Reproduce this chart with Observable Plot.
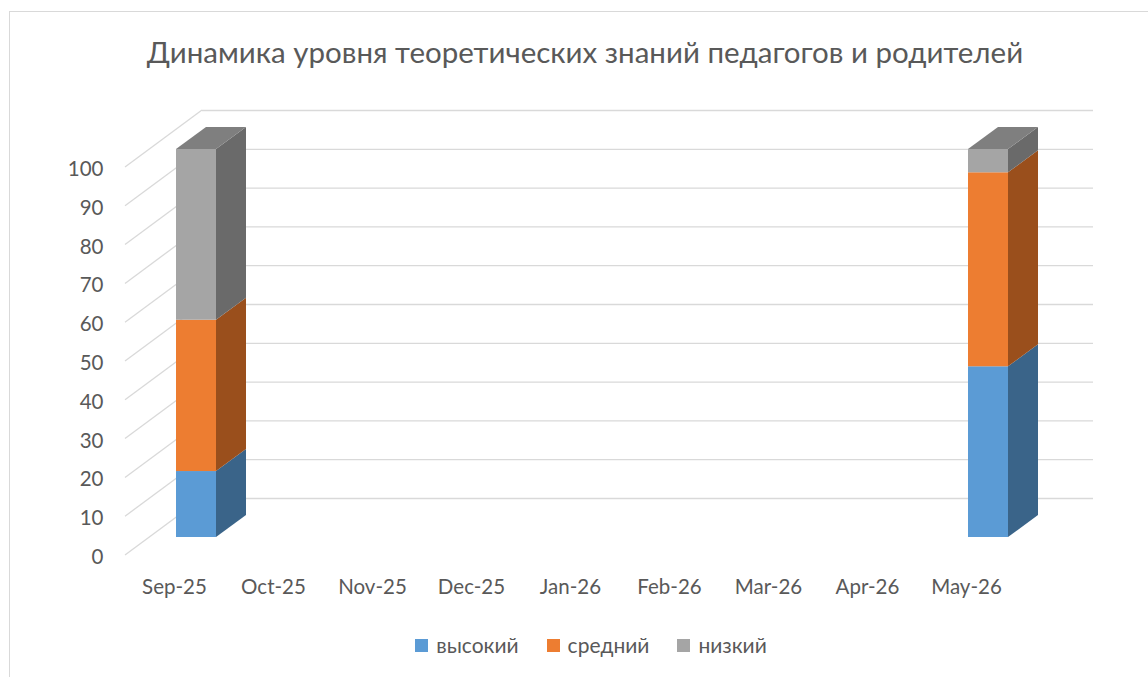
<!DOCTYPE html>
<html>
<head>
<meta charset="utf-8">
<script src="https://cdn.jsdelivr.net/npm/d3@7"></script>
<script src="https://cdn.jsdelivr.net/npm/@observablehq/plot@0.6"></script>
<style>
  html, body { margin: 0; padding: 0; background: #fff; }
  #page { position: relative; width: 1148px; height: 677px; overflow: hidden; font-family: Lato, "Open Sans", sans-serif; color: #595959; }
  #frame { position: absolute; left: 9px; top: 11px; width: 1200px; height: 700px; border-left: 1.5px solid #d9d9d9; border-top: 1.5px solid #d9d9d9; }
  #title { position: absolute; left: 0; width: 1170px; top: 35px; text-align: center; font-size: 29.5px; line-height: 34px; color: #595959; }
  #chart { position: absolute; left: 0; top: 90px; }
  #legend { position: absolute; left: 0; width: 1182px; top: 632px; display: flex; justify-content: center; gap: 28px; font-size: 21px; line-height: 26px; }
  #legend .item { display: flex; align-items: center; gap: 8px; }
  #legend .sw { width: 13px; height: 13px; display: inline-block; }
</style>
</head>
<body>
<div id="page">
  <div id="frame"></div>
  <div id="title">Динамика уровня теоретических знаний педагогов и родителей</div>
  <div id="chart"></div>
  <div id="legend"></div>
</div>
<script>
const months = ["Sep-25", "Oct-25", "Nov-25", "Dec-25", "Jan-26", "Feb-26", "Mar-26", "Apr-26", "May-26"];
const levels = ["высокий", "средний", "низкий"];
const high = [17, null, null, null, null, null, null, null, 44];
const mid  = [39, null, null, null, null, null, null, null, 50];
const low  = [44, null, null, null, null, null, null, null, 6];
const yTicks = [0, 10, 20, 30, 40, 50, 60, 70, 80, 90, 100];
const frontColors = ["#5b9bd5", "#ed7d31", "#a5a5a5"];
const sideColors  = ["#3a6489", "#9a4f1c", "#6a6a6a"];
const topColors   = ["#4a7bab", "#b35e23", "#7f7f7f"];

const series = [high, mid, low];
const table = [];
months.forEach((m, i) => {
  levels.forEach((l, j) => {
    const v = series[j][i];
    if (v != null) table.push({month: m, level: l, value: v});
  });
});

// 3D geometry (pixels): front face offset from back wall, depth of bar
const FX = -55, FY = 39, DX = 30, DY = -22;
const SIDE_X = -77, SIDE_Y = 57;

function sideWall(index, scales, values, dimensions) {
  const g = d3.create("svg:g");
  const x0 = dimensions.marginLeft;
  for (const t of yTicks) {
    const y = scales.y(t);
    g.append("line")
      .attr("x1", x0 + SIDE_X).attr("y1", y + SIDE_Y)
      .attr("x2", x0).attr("y2", y)
      .attr("stroke", "#d9d9d9").attr("stroke-width", 1.3);
  }
  return g.node();
}

function barSides(index, scales, values, dimensions) {
  const g = d3.create("svg:g");
  const bw = scales.x.bandwidth ? scales.x.bandwidth() : 40;
  months.forEach((m, i) => {
    let c = 0;
    let topIdx = -1;
    series.forEach((s, j) => { if (s[i] != null) topIdx = j; });
    if (topIdx < 0) return;
    const xl = scales.x(m) + FX, xr = xl + bw;
    series.forEach((s, j) => {
      const v = s[i];
      if (v == null) return;
      const y0 = scales.y(c) + FY, y1 = scales.y(c + v) + FY;
      c += v;
      g.append("polygon")
        .attr("points", [[xr, y0], [xr, y1], [xr + DX, y1 + DY], [xr + DX, y0 + DY]].map(p => p.join(",")).join(" "))
        .attr("fill", sideColors[j]);
      if (j === topIdx) {
        g.append("polygon")
          .attr("points", [[xl, y1], [xr, y1], [xr + DX, y1 + DY], [xl + DX, y1 + DY]].map(p => p.join(",")).join(" "))
          .attr("fill", topColors[j]);
      }
    });
  });
  return g.node();
}

const chart = Plot.plot({
  width: 1148,
  height: 525,
  marginLeft: 202,
  marginRight: 55,
  marginTop: 20,
  marginBottom: 117,
  x: {type: "band", domain: months, paddingInner: 0.595, paddingOuter: 0.2975, axis: null},
  y: {domain: [0, 100], axis: null},
  color: {domain: levels, range: frontColors},
  style: {fontFamily: "Lato, 'Open Sans', sans-serif", color: "#595959", background: "transparent"},
  marks: [
    Plot.ruleY(yTicks, {stroke: "#d9d9d9", strokeWidth: 1.3}),
    sideWall,
    Plot.text(yTicks, {y: d => d, frameAnchor: "left", textAnchor: "end", dx: -99, dy: 59, fontSize: 20.5, fill: "#595959"}),
    Plot.text(months, {x: d => d, y: () => 0, dx: -77, dy: 89, fontSize: 20.5, fill: "#595959"}),
    barSides,
    Plot.barY(table, {x: "month", y: "value", fill: "level", dx: FX, dy: FY})
  ]
});
document.getElementById("chart").appendChild(chart);

const legend = document.getElementById("legend");
levels.forEach((l, j) => {
  const item = document.createElement("div");
  item.className = "item";
  const sw = document.createElement("span");
  sw.className = "sw";
  sw.style.background = frontColors[j];
  const tx = document.createElement("span");
  tx.textContent = l;
  item.appendChild(sw);
  item.appendChild(tx);
  legend.appendChild(item);
});
</script>
</body>
</html>
